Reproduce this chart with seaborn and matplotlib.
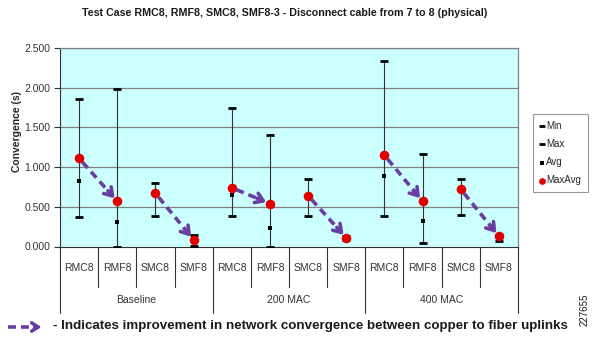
import matplotlib
matplotlib.use("Agg")
import matplotlib.pyplot as plt
import seaborn as sns
import numpy as np
import pandas as pd

# ---- data ----
groups = ["Baseline", "200 MAC", "400 MAC"]
categories = ["RMC8", "RMF8", "SMC8", "SMF8"]
min_vals = [0.37, 0.00, 0.38, 0.01, 0.38, 0.00, 0.39, 0.08, 0.38, 0.04, 0.40, 0.07]
max_vals = [1.86, 1.98, 0.80, 0.15, 1.74, 1.41, 0.85, 0.13, 2.34, 1.17, 0.85, 0.15]
avg_vals = [0.82, 0.31, 0.66, 0.07, 0.65, 0.23, 0.62, 0.10, 0.89, 0.32, 0.70, 0.10]
maxavg_vals = [1.11, 0.57, 0.67, 0.085, 0.74, 0.54, 0.64, 0.11, 1.15, 0.57, 0.72, 0.13]
arrow_pairs = [(0, 1), (2, 3), (4, 5), (6, 7), (8, 9), (10, 11)]
yticks = [0.0, 0.5, 1.0, 1.5, 2.0, 2.5]

title = "Test Case RMC8, RMF8, SMC8, SMF8-3 - Disconnect cable from 7 to 8 (physical)"
footer = "- Indicates improvement in network convergence between copper to fiber uplinks"

labels = [c for g in groups for c in categories]
group_of = [g for g in groups for c in categories]
df = pd.DataFrame({
    "pos": np.arange(len(labels)),
    "label": labels,
    "group": group_of,
    "Min": min_vals,
    "Max": max_vals,
    "Avg": avg_vals,
    "MaxAvg": maxavg_vals,
})

sns.set_theme(style="white")
plt.rcParams["font.family"] = ["Liberation Sans", "DejaVu Sans"]

W, H = 595, 340
fig = plt.figure(figsize=(W / 100, H / 100), dpi=100)
ax = fig.add_axes([60 / W, 1 - 246.5 / H, (518 - 60) / W, (246.5 - 48) / H])
ax.set_facecolor("#CCFFFF")

purple = "#6a3ea1"

# high-low lines
ax.vlines(df["pos"], df["Min"], df["Max"], color="#333333", lw=0.8, zorder=3)
sns.scatterplot(data=df, x="pos", y="Min", marker="_", s=32, color="black",
                linewidth=2.0, ax=ax, zorder=4, label="Min")
sns.scatterplot(data=df, x="pos", y="Max", marker="_", s=32, color="black",
                linewidth=2.0, ax=ax, zorder=4, label="Max")
sns.scatterplot(data=df, x="pos", y="Avg", marker="s", s=10, color="black",
                linewidth=0, ax=ax, zorder=4, label="Avg")
sns.scatterplot(data=df, x="pos", y="MaxAvg", marker="o", s=48, color="#E00000",
                linewidth=0, ax=ax, zorder=5, label="MaxAvg")

ax.set_xlim(-0.5, len(labels) - 0.5)
ax.set_ylim(0, 2.5)
ax.set_yticks(yticks)
ax.set_yticklabels([f"{v:.3f}" for v in yticks], fontsize=7.5, color="#333333")
ax.set_xticks([])
ax.set_xlabel("")
ax.set_ylabel("Convergence (s)", fontsize=7.5, fontweight="bold")
ax.yaxis.set_label_coords((22 - 60) / 458, (246.5 - 131) / 198.5)
ax.tick_params(axis="y", left=True, length=4, width=0.8, color="#333333", pad=3)
for y in yticks[1:]:
    ax.axhline(y, color="#808080", lw=0.9, zorder=1)
for s in ["left", "bottom"]:
    ax.spines[s].set_color("#333333")
    ax.spines[s].set_linewidth(0.8)
for s in ["top", "right"]:
    ax.spines[s].set_color("#808080")
    ax.spines[s].set_linewidth(0.9)

# category axis below
trans = ax.get_xaxis_transform()
ax_h_px = 246.5 - 48
def yax(py):
    return (246.5 - py) / ax_h_px
for i, lab in enumerate(labels):
    ax.text(i, yax(268), lab, transform=trans, ha="center", va="center",
            fontsize=7.5, color="#333333")
for k in range(len(labels) + 1):
    x = k - 0.5
    bottom = yax(313) if k % 4 == 0 else yax(287)
    ax.plot([x, x], [0, bottom], transform=trans, color="#333333", lw=0.8,
            clip_on=False)
for gi, g in enumerate(groups):
    ax.text(gi * 4 + 1.5, yax(300), g, transform=trans, ha="center", va="center",
            fontsize=7.5, color="#333333")

# improvement arrows
fig.canvas.draw()
for a, b in arrow_pairs:
    p0 = ax.transData.transform((df["pos"][a], df["MaxAvg"][a]))
    p1 = ax.transData.transform((df["pos"][b], df["MaxAvg"][b]))
    d = p1 - p0
    u = d / np.hypot(*d)
    start = p0 + u * 5
    tip = p1 - u * 4
    head_base = tip - u * 9
    inv = ax.transData.inverted()
    s_d = inv.transform(start)
    hb_d = inv.transform(head_base + u * 2)
    t_d = inv.transform(tip)
    ax.plot([s_d[0], hb_d[0]], [s_d[1], hb_d[1]], color=purple, lw=2.6,
            ls=(0, (2.2, 1.4)), zorder=6, solid_capstyle="butt",
            dash_capstyle="butt")
    ax.annotate("", xy=t_d, xytext=inv.transform(tip - u * 10),
                arrowprops=dict(arrowstyle="->,head_length=0.45,head_width=0.3",
                                color=purple, lw=2.6, shrinkA=0, shrinkB=0),
                zorder=7)

leg = ax.legend(loc="upper left", bbox_to_anchor=(528 / W, 1 - 109 / H),
                bbox_transform=fig.transFigure, fontsize=7, frameon=True,
                fancybox=False, edgecolor="#808080", handlelength=0.5,
                handletextpad=0.2, borderpad=0.7, labelspacing=0.85,
                markerscale=0.7)
leg.get_frame().set_linewidth(0.8)

fig.text(285 / W, 1 - 13 / H, title, ha="center", va="center", fontsize=7.7,
         fontweight="bold", color="#1a1a1a")

# footer legend
fig.add_artist(matplotlib.lines.Line2D([8 / W, 36 / W], [1 - 327 / H, 1 - 327 / H],
               transform=fig.transFigure, color=purple, lw=2.6, ls=(0, (2.2, 1.4))))
fig.add_artist(matplotlib.patches.FancyArrowPatch(
    (32 / W, 1 - 327 / H), (44 / W, 1 - 327 / H), transform=fig.transFigure,
    arrowstyle="->,head_length=0.45,head_width=0.3", color=purple, lw=2.6,
    mutation_scale=10))
fig.text(53 / W, 1 - 326 / H, footer, ha="left", va="center", fontsize=9.6,
         fontweight="bold", color="#1a1a1a")
fig.text(585 / W, 1 - 310 / H, "227655", ha="center", va="center", rotation=90,
         fontsize=7, color="#1a1a1a")

fig.savefig("out.png", dpi=100)
